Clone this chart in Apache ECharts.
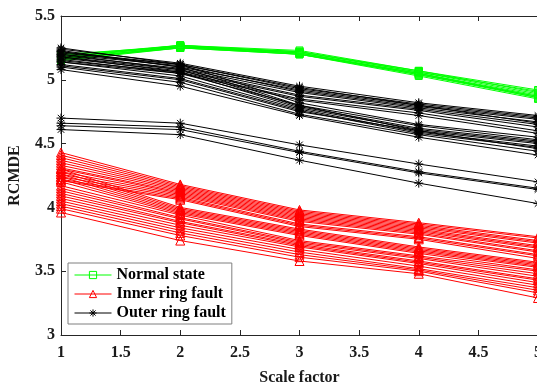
<!DOCTYPE html>
<html>
<head>
<meta charset="utf-8">
<script src="https://cdn.jsdelivr.net/npm/echarts@6/dist/echarts.min.js"></script>
<style>html,body{margin:0;padding:0;background:#fff}#c{width:537px;height:386px}</style>
</head>
<body>
<div id="c"></div>
<script>
const scales = [1, 2, 3, 4, 5];
const xTicks = [1, 1.5, 2, 2.5, 3, 3.5, 4, 4.5, 5];
const yTicks = [3, 3.5, 4, 4.5, 5, 5.5];
const legendNames = ['Normal state', 'Inner ring fault', 'Outer ring fault'];

const normalState = [
  [5.16, 5.26, 5.21, 5.05, 4.87],
  [5.17, 5.27, 5.22, 5.06, 4.89],
  [5.18, 5.26, 5.20, 5.04, 4.86],
  [5.15, 5.25, 5.21, 5.05, 4.88],
  [5.19, 5.27, 5.23, 5.07, 4.90],
  [5.17, 5.25, 5.20, 5.03, 4.85],
  [5.16, 5.26, 5.22, 5.06, 4.91],
  [5.18, 5.27, 5.21, 5.04, 4.87],
  [5.20, 5.26, 5.22, 5.07, 4.92],
  [5.16, 5.25, 5.20, 5.05, 4.86]
];

const innerFault = [
  [4.43, 4.18, 3.98, 3.88, 3.77],
  [4.41, 4.17, 3.97, 3.87, 3.76],
  [4.39, 4.16, 3.96, 3.86, 3.74],
  [4.37, 4.15, 3.95, 3.85, 3.73],
  [4.35, 4.14, 3.94, 3.84, 3.72],
  [4.33, 4.13, 3.93, 3.83, 3.70],
  [4.31, 4.12, 3.92, 3.82, 3.69],
  [4.30, 4.11, 3.91, 3.81, 3.68],
  [4.28, 4.10, 3.90, 3.80, 3.66],
  [4.26, 4.09, 3.89, 3.79, 3.65],
  [4.24, 4.08, 3.87, 3.77, 3.63],
  [4.22, 4.07, 3.86, 3.76, 3.62],
  [4.21, 4.06, 3.85, 3.75, 3.60],
  [4.30, 4.00, 3.83, 3.69, 3.57],
  [4.28, 3.99, 3.82, 3.68, 3.56],
  [4.26, 3.98, 3.81, 3.67, 3.55],
  [4.24, 3.97, 3.80, 3.66, 3.54],
  [4.22, 3.96, 3.79, 3.65, 3.53],
  [4.20, 3.95, 3.78, 3.64, 3.51],
  [4.17, 3.94, 3.74, 3.62, 3.50],
  [4.15, 3.92, 3.73, 3.61, 3.48],
  [4.13, 3.91, 3.72, 3.60, 3.46],
  [4.11, 3.89, 3.71, 3.58, 3.44],
  [4.09, 3.88, 3.70, 3.57, 3.43],
  [4.07, 3.86, 3.69, 3.56, 3.41],
  [4.05, 3.84, 3.67, 3.54, 3.39],
  [4.03, 3.82, 3.65, 3.52, 3.37],
  [4.01, 3.80, 3.63, 3.51, 3.35],
  [3.99, 3.78, 3.61, 3.50, 3.33],
  [3.96, 3.74, 3.58, 3.48, 3.29]
];

const outerFault = [
  [5.24, 5.13, 4.95, 4.82, 4.72],
  [5.22, 5.12, 4.93, 4.81, 4.71],
  [5.23, 5.10, 4.92, 4.80, 4.70],
  [5.20, 5.11, 4.91, 4.79, 4.69],
  [5.19, 5.09, 4.90, 4.78, 4.67],
  [5.21, 5.12, 4.94, 4.80, 4.66],
  [5.18, 5.08, 4.88, 4.77, 4.65],
  [5.17, 5.07, 4.87, 4.76, 4.63],
  [5.15, 5.06, 4.85, 4.74, 4.60],
  [5.14, 5.05, 4.84, 4.72, 4.58],
  [5.25, 5.12, 4.82, 4.65, 4.55],
  [5.22, 5.10, 4.80, 4.64, 4.53],
  [5.20, 5.08, 4.79, 4.62, 4.52],
  [5.18, 5.06, 4.78, 4.61, 4.51],
  [5.16, 5.05, 4.80, 4.60, 4.50],
  [5.14, 5.03, 4.77, 4.59, 4.48],
  [5.12, 5.01, 4.76, 4.58, 4.47],
  [5.11, 5.00, 4.75, 4.60, 4.46],
  [5.10, 4.98, 4.73, 4.57, 4.44],
  [5.08, 4.95, 4.72, 4.55, 4.41],
  [4.70, 4.66, 4.49, 4.34, 4.20],
  [4.66, 4.63, 4.44, 4.28, 4.15],
  [4.64, 4.61, 4.43, 4.27, 4.14],
  [4.61, 4.57, 4.37, 4.19, 4.03]
];

const FONT = '"Liberation Serif", "Times New Roman", serif';
const asterisk = 'path://M0,-5L0,5M-5,0L5,0M-3.6,-3.6L3.6,3.6M-3.6,3.6L3.6,-3.6';

function makeSeries(group, name, color, symbol, size) {
  return group.map(vals => ({
    type: 'line',
    name: name,
    data: vals.map((v, i) => [scales[i], v]),
    symbol: symbol,
    symbolSize: size,
    showSymbol: true,
    animation: false,
    lineStyle: { color: color, width: 1 },
    itemStyle: { color: 'none', borderColor: color, borderWidth: 1 },
    emphasis: { disabled: true },
    z: 2
  }));
}

const series = [].concat(
  makeSeries(normalState, legendNames[0], '#00ff00', 'rect', 7),
  makeSeries(innerFault, legendNames[1], '#ff0000', 'triangle', 9),
  makeSeries(outerFault, legendNames[2], '#000000', asterisk, 9)
);

const axisFont = { fontFamily: FONT, fontWeight: 'bold', fontSize: 16, color: '#1a1a1a' };

const chart = echarts.init(document.getElementById('c'), null, { renderer: 'canvas' });
chart.setOption({
  animation: false,
  backgroundColor: '#fff',
  grid: { left: 61, top: 16, width: 477, bottom: 51, containLabel: false, outerBoundsMode: 'none' },
  xAxis: [{
    type: 'value', min: xTicks[0], max: xTicks[xTicks.length - 1], interval: 0.5,
    position: 'bottom',
    name: 'Scale factor', nameLocation: 'middle', nameGap: 35,
    nameTextStyle: { fontFamily: FONT, fontWeight: 'bold', fontSize: 16, color: '#1a1a1a' },
    axisLine: { onZero: false, lineStyle: { color: '#262626', width: 1 } },
    axisTick: { inside: true, length: 5, lineStyle: { color: '#262626' } },
    axisLabel: Object.assign({ margin: 10, hideOverlap: false }, axisFont),
    splitLine: { show: false }
  }, {
    type: 'value', min: xTicks[0], max: xTicks[xTicks.length - 1], interval: 0.5,
    position: 'top',
    axisLine: { onZero: false, lineStyle: { color: '#262626', width: 1 } },
    axisTick: { inside: true, length: 5, lineStyle: { color: '#262626' } },
    axisLabel: { show: false },
    splitLine: { show: false }
  }],
  yAxis: [{
    type: 'value', min: yTicks[0], max: yTicks[yTicks.length - 1], interval: 0.5,
    name: 'RCMDE', nameLocation: 'middle', nameGap: 38,
    nameTextStyle: { fontFamily: FONT, fontWeight: 'bold', fontSize: 16, color: '#1a1a1a' },
    axisLine: { show: true, onZero: false, lineStyle: { color: '#262626', width: 1 } },
    axisTick: { show: true, inside: true, length: 5, lineStyle: { color: '#262626' } },
    axisLabel: Object.assign({ margin: 6 }, axisFont),
    splitLine: { show: false }
  }],
  legend: {
    data: legendNames,
    orient: 'vertical',
    left: 68, top: 263,
    padding: [4, 6, 3, 6],
    itemGap: 3,
    itemWidth: 37, itemHeight: 9,
    backgroundColor: '#fff',
    borderColor: '#7f7f7f', borderWidth: 1,
    borderRadius: 0,
    selectedMode: false,
    itemStyle: { color: 'none', borderWidth: 1 },
    lineStyle: { width: 1 },
    textStyle: { fontFamily: FONT, fontWeight: 'bold', fontSize: 16, color: '#000', padding: [0, 0, 0, 0] }
  },
  series: series
});
</script>
</body>
</html>
